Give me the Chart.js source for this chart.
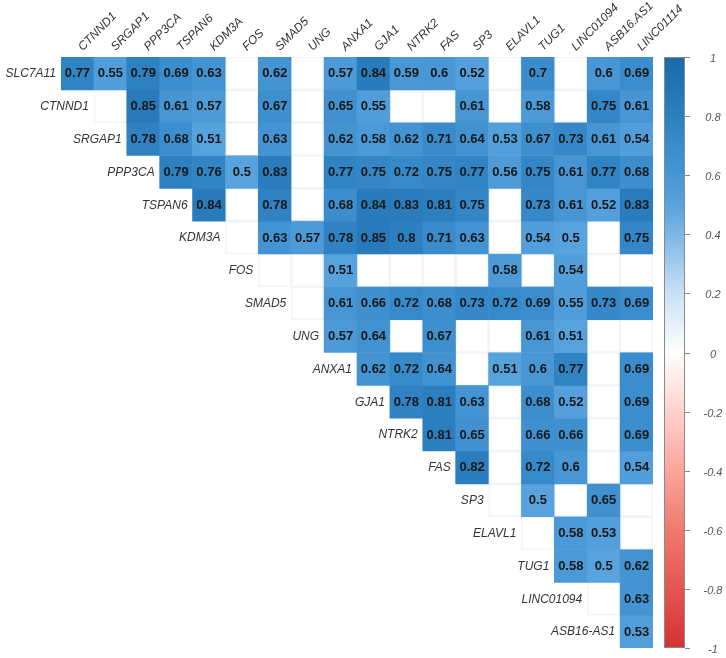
<!DOCTYPE html>
<html>
<head>
<meta charset="utf-8">
<script src="https://cdn.jsdelivr.net/npm/chart.js@4.4.1/dist/chart.umd.min.js"></script>
<style>
html,body{margin:0;padding:0;background:#fff;}
#wrap{position:relative;width:726px;height:658px;}
</style>
</head>
<body>
<div id="wrap"><canvas id="c" width="726" height="658"></canvas></div>
<script>
// Row labels (left, staggered along the diagonal)
const rowLabels = ['SLC7A11','CTNND1','SRGAP1','PPP3CA','TSPAN6','KDM3A','FOS','SMAD5','UNG','ANXA1','GJA1','NTRK2','FAS','SP3','ELAVL1','TUG1','LINC01094','ASB16-AS1'];
// Column labels (top)
const colLabels = ['CTNND1','SRGAP1','PPP3CA','TSPAN6','KDM3A','FOS','SMAD5','UNG','ANXA1','GJA1','NTRK2','FAS','SP3','ELAVL1','TUG1','LINC01094','ASB16.AS1','LINC01114'];
// Colour bar ticks
const colorbarTicks = [1,0.8,0.6,0.4,0.2,0,-0.2,-0.4,-0.6,-0.8,-1];

// Correlation values; each row starts at column index = row index (null = blank cell)
const vSLC7A11  = [0.77,0.55,0.79,0.69,0.63,null,0.62,null,0.57,0.84,0.59,0.6,0.52,null,0.7,null,0.6,0.69];
const vCTNND1   = [null,0.85,0.61,0.57,null,0.67,null,0.65,0.55,null,null,0.61,null,0.58,null,0.75,0.61];
const vSRGAP1   = [0.78,0.68,0.51,null,0.63,null,0.62,0.58,0.62,0.71,0.64,0.53,0.67,0.73,0.61,0.54];
const vPPP3CA   = [0.79,0.76,0.5,0.83,null,0.77,0.75,0.72,0.75,0.77,0.56,0.75,0.61,0.77,0.68];
const vTSPAN6   = [0.84,null,0.78,null,0.68,0.84,0.83,0.81,0.75,null,0.73,0.61,0.52,0.83];
const vKDM3A    = [null,0.63,0.57,0.78,0.85,0.8,0.71,0.63,null,0.54,0.5,null,0.75];
const vFOS      = [null,null,0.51,null,null,null,null,0.58,null,0.54,null,null];
const vSMAD5    = [null,0.61,0.66,0.72,0.68,0.73,0.72,0.69,0.55,0.73,0.69];
const vUNG      = [0.57,0.64,null,0.67,null,null,0.61,0.51,null,null];
const vANXA1    = [0.62,0.72,0.64,null,0.51,0.6,0.77,null,0.69];
const vGJA1     = [0.78,0.81,0.63,null,0.68,0.52,null,0.69];
const vNTRK2    = [0.81,0.65,null,0.66,0.66,null,0.69];
const vFAS      = [0.82,null,0.72,0.6,null,0.54];
const vSP3      = [null,0.5,null,0.65,null];
const vELAVL1   = [null,0.58,0.53,null];
const vTUG1     = [0.58,0.5,0.62];
const vLINC01094= [null,0.63];
const vASB16AS1 = [0.53];

const rowValues = [vSLC7A11,vCTNND1,vSRGAP1,vPPP3CA,vTSPAN6,vKDM3A,vFOS,vSMAD5,vUNG,vANXA1,vGJA1,vNTRK2,vFAS,vSP3,vELAVL1,vTUG1,vLINC01094,vASB16AS1];

const colorStops = [
  [-1,[213,50,50]],[-0.8,[228,85,80]],[-0.6,[240,122,110]],[-0.4,[250,165,155]],[-0.2,[255,210,205]],
  [0,[255,255,255]],[0.2,[200,225,245]],[0.4,[125,182,230]],[0.5,[88,163,222]],[0.6,[72,150,212]],
  [0.7,[58,140,204]],[0.8,[45,128,192]],[0.9,[35,116,180]],[1,[28,106,166]]
];
function corrColor(v){
  for(let k=1;k<colorStops.length;k++){
    const [v1,c1]=colorStops[k-1],[v2,c2]=colorStops[k];
    if(v<=v2){
      const t=(v-v1)/(v2-v1);
      const c=c1.map((a,i)=>Math.round(a+(c2[i]-a)*t));
      return `rgb(${c[0]},${c[1]},${c[2]})`;
    }
  }
  return 'rgb(28,106,166)';
}

function cellValue(r,c){ if(c<r) return undefined; return rowValues[r][c-r]; }

const datasets = rowLabels.map((name,r)=>{
  const data = colLabels.map((_,c)=> c>=r ? [r-0.5,r+0.5] : null);
  const blank = c => { const v=cellValue(r,c); return v===null||v===undefined; };
  return {label:name,data,
    backgroundColor:colLabels.map((_,c)=> blank(c)?'rgba(255,255,255,0)':corrColor(cellValue(r,c))),
    borderColor:colLabels.map((_,c)=> blank(c)?'rgba(222,230,238,0.4)':'rgba(0,0,0,0)'),
    borderWidth:colLabels.map((_,c)=> blank(c)?1:0),
    borderSkipped:false,barPercentage:1,categoryPercentage:1,grouped:false,order:r};
});

const FONT = "'Liberation Sans', Arial, sans-serif";

const heatPlugin = {
  id:'heat',
  afterDatasetsDraw(chart){
    const ctx=chart.ctx, xs=chart.scales.x, ys=chart.scales.y;
    const cw = xs.getPixelForValue(1)-xs.getPixelForValue(0);
    ctx.save();
    ctx.font = "italic 12px "+FONT; ctx.fillStyle='#333'; ctx.textAlign='right'; ctx.textBaseline='middle';
    rowLabels.forEach((name,r)=>{
      ctx.fillText(name, xs.getPixelForValue(r)-cw/2-5, ys.getPixelForValue(r)+0.5);
    });
    ctx.font = "bold 13px "+FONT; ctx.fillStyle='#181818'; ctx.textAlign='center';
    rowValues.forEach((vals,r)=>{
      vals.forEach((v,k)=>{
        if(v===null) return;
        ctx.fillText(String(v), xs.getPixelForValue(r+k), ys.getPixelForValue(r)+0.5);
      });
    });
    // colour bar
    const y2=chart.scales.y2;
    const top=y2.getPixelForValue(1), bot=y2.getPixelForValue(-1);
    const x0=664, w=21;
    const g=ctx.createLinearGradient(0,bot,0,top);
    colorStops.forEach(([v,c])=>g.addColorStop((v+1)/2,`rgb(${c[0]},${c[1]},${c[2]})`));
    ctx.fillStyle=g; ctx.fillRect(x0,top,w,bot-top);
    ctx.strokeStyle='#8a8a8a'; ctx.lineWidth=1; ctx.strokeRect(x0+0.5,top+0.5,w-1,bot-top-1);
    ctx.font = "italic 11px "+FONT; ctx.fillStyle='#555'; ctx.textAlign='center';
    colorbarTicks.forEach(t=>{
      const y=Math.round(y2.getPixelForValue(t))+0.5;
      ctx.beginPath(); ctx.moveTo(x0+w,y); ctx.lineTo(x0+w+5,y); ctx.stroke();
      ctx.fillText(String(t), 713, y+1);
    });
    ctx.restore();
  }
};

function zeroPad(s){ s.paddingTop=0; s.paddingBottom=0; s.paddingLeft=0; s.paddingRight=0; }

new Chart(document.getElementById('c'),{
  type:'bar',
  data:{labels:colLabels,datasets},
  options:{
    responsive:false,animation:false,events:[],
    layout:{padding:{left:61,right:0,top:0,bottom:10}},
    plugins:{legend:{display:false},tooltip:{enabled:false}},
    scales:{
      x:{type:'category',position:'top',offset:true,
        grid:{display:false},border:{display:false},
        ticks:{font:{family:FONT,size:12,style:'italic'},color:'#333',minRotation:45,maxRotation:45,padding:-5,labelOffset:13,autoSkip:false},
        afterFit(s){s.height=57; zeroPad(s);}
      },
      y:{type:'linear',min:-0.5,max:17.5,reverse:true,display:false},
      y2:{type:'linear',position:'right',min:-1,max:1,
        grid:{display:false},border:{display:false},
        ticks:{display:false},
        afterFit(s){s.width=73; zeroPad(s);}
      }
    }
  },
  plugins:[heatPlugin]
});
</script>
</body>
</html>
